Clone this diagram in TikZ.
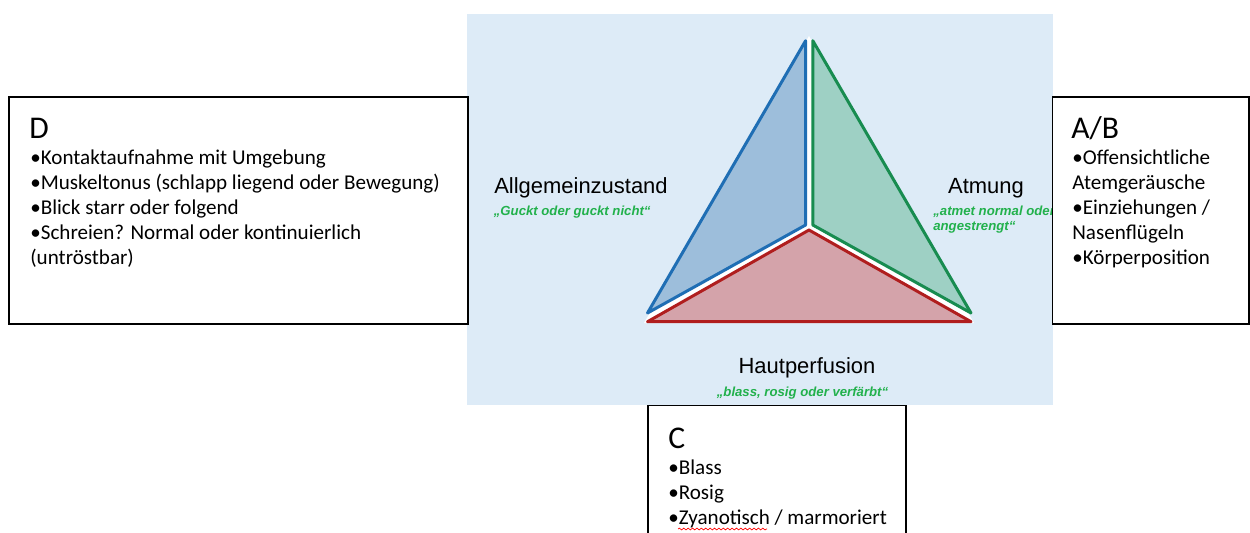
\documentclass[tikz,border=0pt]{standalone}
\usepackage{fontspec}
\setmainfont{Carlito}
\newfontfamily\labelfont{Liberation Sans}
\usetikzlibrary{decorations.pathmorphing}

\definecolor{bgblue}{RGB}{221,235,247}
\definecolor{quotegreen}{RGB}{34,177,76}
\definecolor{aezline}{RGB}{31,110,180}
\definecolor{aezfill}{RGB}{157,190,219}
\definecolor{atmline}{RGB}{24,140,80}
\definecolor{atmfill}{RGB}{158,208,196}
\definecolor{hautline}{RGB}{176,30,30}
\definecolor{hautfill}{RGB}{212,163,170}

\begin{document}
\begin{tikzpicture}[x=0.02cm,y=-0.02cm,
  box/.style={draw=black,fill=white,line width=1.1pt},
  head/.style={anchor=base west,inner sep=0pt,font=\fontsize{18}{20}\selectfont},
  item/.style={anchor=base west,inner sep=0pt,font=\fontsize{12}{14}\selectfont},
  part/.style={line width=1.7pt,line join=round},
  label/.style={anchor=base,inner sep=0pt,font=\labelfont\fontsize{12.5}{14}\selectfont},
  quote/.style={anchor=base west,inner sep=0pt,text=quotegreen,
    font=\labelfont\bfseries\itshape\fontsize{7.5}{9}\selectfont}]
  \useasboundingbox (0,0) rectangle (1250,532);

  % light blue panel
  \fill[bgblue] (467,14) rectangle (1053,405);

  % triangle
  \fill[white] (809,36) -- (644,323) -- (974,323) -- cycle;
  \filldraw[part,draw=aezline,fill=aezfill] (805.6,40.7) -- (805.6,225) -- (647.5,313) -- cycle;
  \filldraw[part,draw=atmline,fill=atmfill] (812.8,40.7) -- (812.8,225) -- (971,313) -- cycle;
  \filldraw[part,draw=hautline,fill=hautfill] (809,230) -- (971,321.7) -- (647.5,321.7) -- cycle;

  % labels
  \node[label] (aez) at (581,193) {Allgemeinzustand};
  \node[quote] (aezq) at (493.5,215) {„Guckt oder guckt nicht“};
  \node[label] (atm) at (986,193) {Atmung};
  \node[quote] (atmq) at (933,215) {„atmet normal oder};
  \node[quote] (atmq2) at (933,230) {angestrengt“};
  \node[label] (haut) at (807,373) {Hautperfusion};
  \node[quote] (hautq) at (716.5,396) {„blass, rosig oder verfärbt“};

  % D box
  \draw[box] (9,97) rectangle (468,324);
  \node[head] (dhead) at (29,138) {D};
  \foreach [count=\i] \txt in {•Kontaktaufnahme mit Umgebung,
      •Muskeltonus (schlapp liegend oder Bewegung),
      •Blick starr oder folgend,
      •Schreien? Normal oder kontinuierlich,
      (untröstbar)}
    \node[item] (d\i) at (30,139+25*\i) {\txt};

  % A/B box
  \draw[box] (1052.5,97) rectangle (1249,324);
  \node[head] (abhead) at (1071,138) {A/B};
  \foreach [count=\i] \txt in {•Offensichtliche,
      Atemgeräusche,
      •Einziehungen /,
      Nasenflügeln,
      •Körperposition}
    \node[item] (ab\i) at (1072,139+25*\i) {\txt};

  % C box
  \draw[box] (648,405.5) rectangle (906,545);
  \node[head] (chead) at (668,448) {C};
  \foreach [count=\i] \txt in {•Blass,
      •Rosig,
      •Zyanotisch / marmoriert}
    \node[item] (c\i) at (668,449+25*\i) {\txt};
  \draw[red,line width=0.4pt,decorate,
    decoration={snake,amplitude=0.5pt,segment length=2.5pt}] (678,529) -- (767,529);
\end{tikzpicture}
\end{document}
